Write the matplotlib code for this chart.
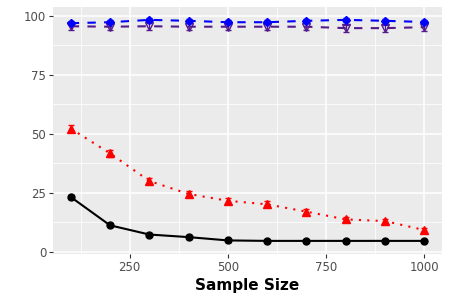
import numpy as np
import matplotlib
matplotlib.use('Agg')
import matplotlib.pyplot as plt
from matplotlib.ticker import MultipleLocator, FixedLocator

sample_size = [100, 200, 300, 400, 500, 600, 700, 800, 900, 1000]

black_vals = [23.2, 11.2, 7.3, 6.2, 4.8, 4.6, 4.6, 4.6, 4.6, 4.6]
black_err = [1.0, 0.9, 0.8, 0.7, 0.6, 0.5, 0.5, 0.5, 0.5, 0.5]

red_vals = [52.2, 41.7, 30.0, 24.5, 21.6, 20.1, 17.0, 13.7, 13.0, 9.2]
red_err = [1.5, 1.5, 1.4, 1.4, 1.3, 1.3, 1.3, 1.1, 1.0, 0.9]

blue_vals = [96.9, 97.3, 98.3, 97.9, 97.3, 97.3, 97.9, 98.3, 97.9, 97.4]
blue_err = [0.8, 0.8, 0.8, 0.8, 0.8, 0.8, 0.8, 0.8, 0.8, 0.8]

purple_vals = [95.6, 95.4, 95.6, 95.4, 95.4, 95.4, 95.4, 94.8, 94.8, 95.2]
purple_err = [1.5, 1.5, 1.5, 1.5, 1.5, 1.5, 1.5, 1.5, 1.5, 1.5]

fig = plt.figure(figsize=(4.5, 3), dpi=100)
ax = fig.add_axes([0.118, 0.153, 0.864, 0.824])
ax.set_facecolor('#EBEBEB')

series = [
    (black_vals, black_err, 'black', None, 'o', 'black', 5),
    (red_vals, red_err, 'red', (1, 3), '^', 'red', 6),
    (purple_vals, purple_err, '#551A8B', (4, 4), 'v', 'none', 6),
    (blue_vals, blue_err, 'blue', (4, 4), 'D', 'blue', 4),
]
for vals, err, col, dash, mk, mfc, ms in series:
    line, caps, bars = ax.errorbar(sample_size, vals, yerr=err, color=col, lw=1.5,
                                   marker=mk, markersize=ms, markerfacecolor=mfc,
                                   markeredgecolor=col, markeredgewidth=1.0,
                                   capsize=2.5, elinewidth=0.9, capthick=0.9, zorder=3)
    if dash is not None:
        line.set_dashes(dash)

ax.set_xlim(55, 1045)
ax.set_ylim(-1.0, 103.8)
ax.xaxis.set_major_locator(FixedLocator([250, 500, 750, 1000]))
ax.xaxis.set_minor_locator(FixedLocator([125, 375, 625, 875]))
ax.yaxis.set_major_locator(MultipleLocator(25))
ax.yaxis.set_minor_locator(MultipleLocator(12.5))
ax.grid(which='major', color='white', lw=1.1)
ax.grid(which='minor', color='white', lw=0.55)
ax.set_axisbelow(True)
for sp in ax.spines.values():
    sp.set_visible(False)
ax.tick_params(which='major', length=3, color='#333333', labelcolor='#4D4D4D',
               labelsize=8.5, pad=2)
ax.tick_params(which='minor', length=0)

ax.set_xlabel('Sample Size', fontsize=11, fontweight='bold', labelpad=3)

fig.savefig('out.png', dpi=100)
